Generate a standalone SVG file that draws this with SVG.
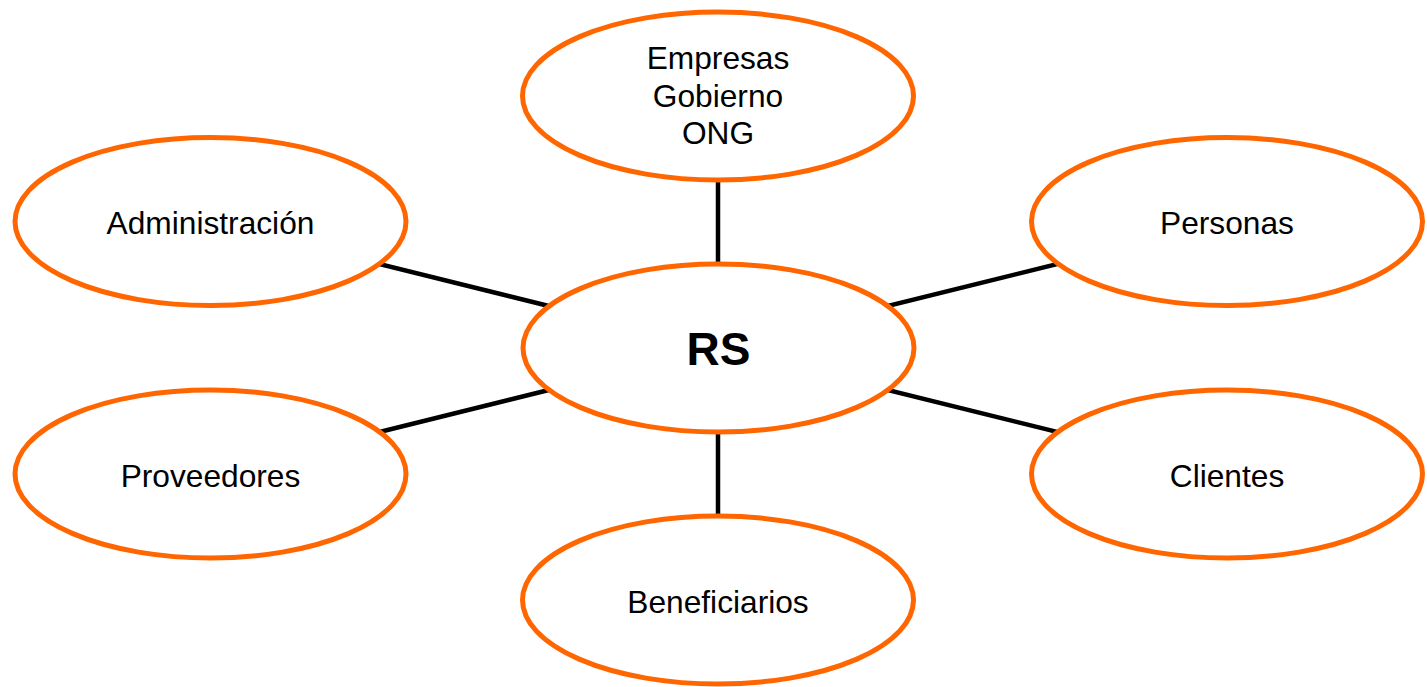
<svg xmlns="http://www.w3.org/2000/svg" width="1427" height="687" viewBox="0 0 1427 687">
<style>
.n ellipse{fill:#fff;stroke:#FF6600;stroke-width:5}
.n text{font-family:"Liberation Sans",Arial,sans-serif;font-size:31.7px;fill:#000;text-anchor:middle}
.c line{stroke:#000;stroke-width:4.5}
</style>
<rect width="1427" height="687" fill="#fff"/>
<g id="connectors" class="c">
<line x1="718" y1="96" x2="718" y2="348"/>
<line x1="718" y1="348" x2="718" y2="600"/>
<line x1="210" y1="222" x2="718" y2="348"/>
<line x1="1227" y1="222" x2="718" y2="348"/>
<line x1="210" y1="474" x2="718" y2="348"/>
<line x1="1227" y1="474" x2="718" y2="348"/>
</g>
<g id="top" class="n">
<ellipse cx="718" cy="96" rx="195.5" ry="84"/>
<text x="718" y="69">Empresas</text>
<text x="718" y="107">Gobierno</text>
<text x="718" y="144">ONG</text>
</g>
<g id="rs" class="n">
<ellipse cx="718.5" cy="348" rx="195.5" ry="84"/>
<text x="718.5" y="365" style="font-size:46px;font-weight:bold">RS</text>
</g>
<g id="admin" class="n">
<ellipse cx="210.5" cy="221.5" rx="195.5" ry="84"/>
<text x="210.5" y="234">Administración</text>
</g>
<g id="personas" class="n">
<ellipse cx="1227" cy="221.5" rx="195.5" ry="84"/>
<text x="1227" y="234">Personas</text>
</g>
<g id="proveedores" class="n">
<ellipse cx="210.5" cy="474" rx="195.5" ry="84"/>
<text x="210.5" y="487">Proveedores</text>
</g>
<g id="clientes" class="n">
<ellipse cx="1227" cy="474" rx="195.5" ry="84"/>
<text x="1227" y="487">Clientes</text>
</g>
<g id="beneficiarios" class="n">
<ellipse cx="718" cy="600" rx="195.5" ry="84"/>
<text x="718" y="613">Beneficiarios</text>
</g>
</svg>
